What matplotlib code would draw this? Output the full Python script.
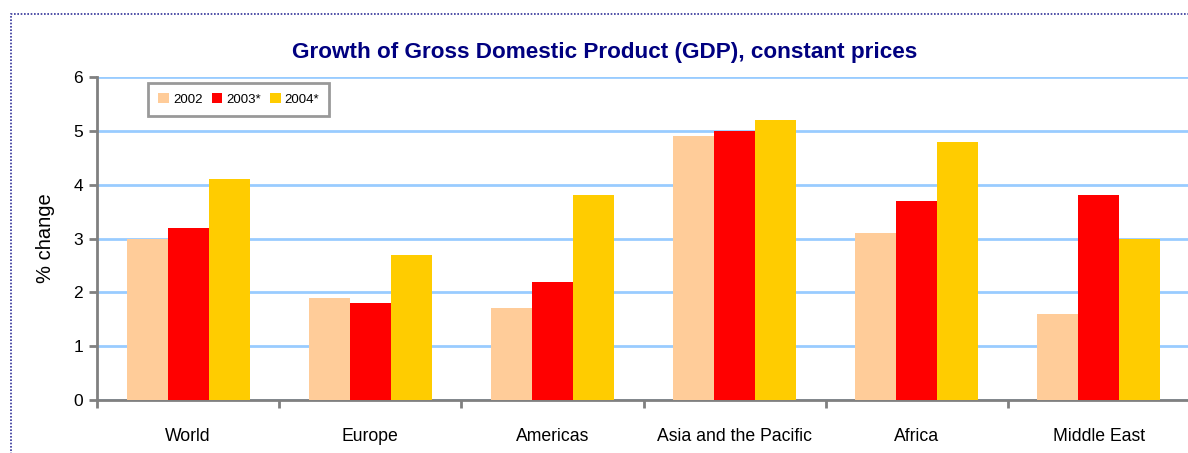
import numpy as np
import matplotlib
matplotlib.use("Agg")
import matplotlib.pyplot as plt
from matplotlib.patches import Rectangle

plt.rcParams['font.family'] = ['Liberation Sans', 'DejaVu Sans']

regions = ["World", "Europe", "Americas", "Asia and the Pacific", "Africa", "Middle East"]
years = ["2002", "2003*", "2004*"]
gdp_2002 = [3.0, 1.9, 1.7, 4.9, 3.1, 1.6]
gdp_2003 = [3.2, 1.8, 2.2, 5.0, 3.7, 3.8]
gdp_2004 = [4.1, 2.7, 3.8, 5.2, 4.8, 3.0]
colors = ["#FFCC99", "#FF0000", "#FFCC00"]

fig = plt.figure(figsize=(11.88, 4.53), dpi=100)
ax = fig.add_axes([0.0817, 0.117, 0.92, 0.713])

# dotted frame around the chart
fig.patches.append(Rectangle((11 / 1188, -0.1), 1.2, 1 - 14 / 453 + 0.1,
                             transform=fig.transFigure, fill=False,
                             edgecolor="#333399", linestyle=(0, (1, 1)), lw=1.2))

x = np.arange(len(regions))
w = 0.225
for i, (vals, lab) in enumerate(zip([gdp_2002, gdp_2003, gdp_2004], years)):
    ax.bar(x + (i - 1) * w, vals, width=w, color=colors[i], label=lab, zorder=3)

ax.set_xlim(-0.5, len(regions) - 0.5)
ax.set_ylim(0, 6)
ax.set_yticks(range(0, 7))
ax.yaxis.grid(True, color="#99CCFF", lw=2, zorder=0)
ax.set_axisbelow(True)

ax.set_xticks(x)
ax.set_xticklabels(regions, fontsize=12.7)
ax.tick_params(axis="x", length=0, pad=20)
ax.set_xticks(np.arange(-0.5, len(regions)), minor=True)
ax.tick_params(axis="x", which="minor", length=6, width=2, color="#808080", direction="out")
ax.tick_params(axis="y", length=6, width=2, color="#808080", labelsize=12.5, pad=4)

for s in ["top", "right"]:
    ax.spines[s].set_visible(False)
for s in ["left", "bottom"]:
    ax.spines[s].set_color("#808080")
    ax.spines[s].set_linewidth(2)

ax.set_ylabel("% change", fontsize=14.5, labelpad=13)
fig.text(0.509, 0.885, "Growth of Gross Domestic Product (GDP), constant prices",
         ha="center", va="center", fontsize=16.2, fontweight="bold", color="#000080")

leg = ax.legend(loc="upper left", bbox_to_anchor=(0.047, 0.981), ncol=3, fontsize=9.5,
                frameon=True, fancybox=False, handlelength=0.8, handleheight=0.8,
                handletextpad=0.3, columnspacing=0.7, borderpad=0.75, borderaxespad=0)
leg.get_frame().set_edgecolor("#808080")
leg.get_frame().set_linewidth(2)

fig.savefig("out.png", dpi=100)
